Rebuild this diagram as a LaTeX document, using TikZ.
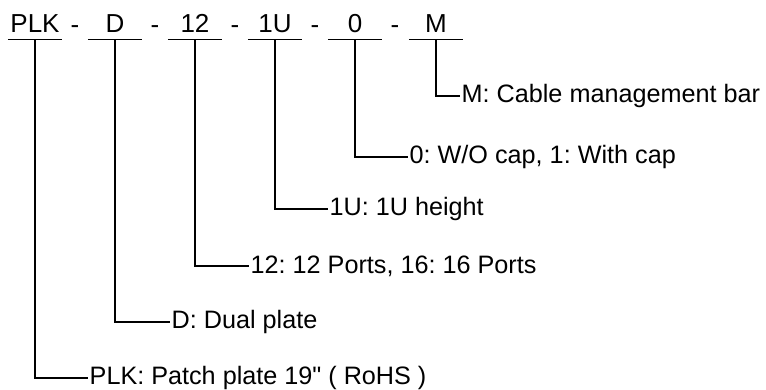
\documentclass[tikz,border=0pt]{standalone}
\usepackage{fontspec}
\setmainfont{Liberation Sans}
\frenchspacing
\tikzset{
  code/.style={minimum width=54pt, inner sep=0pt, anchor=south,
    text height=19pt, text depth=6.5pt, font=\fontsize{26}{28}\selectfont},
  dashsep/.style={anchor=base, font=\fontsize{26}{28}\selectfont},
  desc/.style={anchor=west, inner sep=1.5pt, font=\fontsize{25.2}{27}\selectfont},
  lead/.style={line width=1.8pt}
}
\newcommand{\inch}{\XeTeXglyph\XeTeXcharglyph"22\relax}
\begin{document}
\begin{tikzpicture}[x=1pt,y=1pt]
\useasboundingbox (0,0) rectangle (766,-389);

% Code
\node[code] (plk) at (35,-39.5) {PLK};
\node[code] (d) at (115,-39.5) {D};
\node[code] (n12) at (195,-39.5) {12};
\node[code] (u1) at (275,-39.5) {1U};
\node[code] (cap) at (355,-39.5) {0};
\node[code] (bar) at (436,-39.5) {M};

\node[dashsep] at (75,-33) {-};
\node[dashsep] at (155,-33) {-};
\node[dashsep] at (235,-33) {-};
\node[dashsep] at (315,-33) {-};
\node[dashsep] at (395,-33) {-};

% Underlines
\draw[lead] (plk.south west) -- (plk.south east);
\draw[lead] (d.south west) -- (d.south east);
\draw[lead] (n12.south west) -- (n12.south east);
\draw[lead] (u1.south west) -- (u1.south east);
\draw[lead] (cap.south west) -- (cap.south east);
\draw[lead] (bar.south west) -- (bar.south east);

% Descriptions
\node[desc] (barl) at (460,-96) {M: Cable management bar};
\node[desc] (capl) at (408,-157) {0: W/O cap, 1: With cap};
\node[desc] (u1l) at (328,-209) {1U: 1U height};
\node[desc] (n12l) at (249,-266) {12: 12 Ports, 16: 16 Ports};
\node[desc] (dl) at (170,-322) {D: Dual plate};
\node[desc] (plkl) at (88,-378) {PLK: Patch plate 19\inch{} ( RoHS )};

% Leaders
\draw[lead] (bar.south) |- (barl.west);
\draw[lead] (cap.south) |- (capl.west);
\draw[lead] (u1.south) |- (u1l.west);
\draw[lead] (n12.south) |- (n12l.west);
\draw[lead] (d.south) |- (dl.west);
\draw[lead] (plk.south) |- (plkl.west);

\end{tikzpicture}
\end{document}
